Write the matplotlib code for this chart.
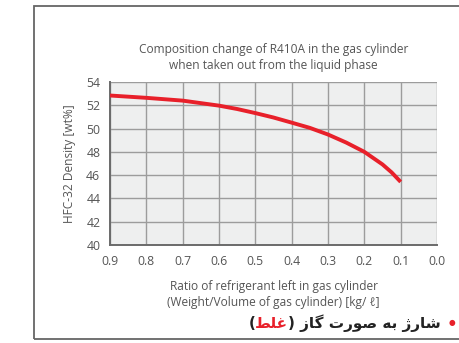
import matplotlib
matplotlib.use("Agg")
import matplotlib.pyplot as plt
from matplotlib.patches import Rectangle

# remaining refrigerant ratio [kg/l] and HFC-32 content [wt%]
ratio = [0.9, 0.8, 0.7, 0.6, 0.55, 0.5, 0.45, 0.4, 0.35, 0.3, 0.25, 0.2, 0.15, 0.125, 0.1]
hfc32 = [52.84, 52.64, 52.4, 51.97, 51.68, 51.33, 50.95, 50.51, 50.06, 49.49, 48.8,
         48.0, 46.92, 46.24, 45.42]

x_ticks = [0.9, 0.8, 0.7, 0.6, 0.5, 0.4, 0.3, 0.2, 0.1, 0.0]
y_ticks = [40, 42, 44, 46, 48, 50, 52, 54]

title = "Composition change of R410A in the gas cylinder\nwhen taken out from the liquid phase"
xlabel = "Ratio of refrigerant left in gas cylinder\n(Weight/Volume of gas cylinder) [kg/ \u2113]"
ylabel = "HFC-32 Density [wt%]"

# Persian caption, pre-shaped glyphs in visual (left-to-right) order
caption_red = "\uFEC2\uFEE0\uFECF"
caption_black = ") \uFEAF\uFE8E\uFB94 \uFE95\uFEAD\uFEEE\uFEBB \uFEEA\uFE91 \uFB8A\uFEAD\uFE8E\uFEB7"

txt_col = "#555555"
plt.rcParams["font.family"] = ["Open Sans", "DejaVu Sans"]

W, H = 459, 343
fig = plt.figure(figsize=(W / 100, H / 100), dpi=100)
ax = fig.add_axes([110 / W, 1 - 245 / H, 327 / W, 163 / H])

ax.set_facecolor("#eeefef")
ax.plot(ratio, hfc32, color="#e8202a", lw=2.8, solid_capstyle="butt",
        solid_joinstyle="round", zorder=3)

ax.set_xlim(0.9, 0.0)
ax.set_ylim(40, 54)
ax.set_xticks(x_ticks)
ax.set_xticklabels([f"{v:.1f}" for v in x_ticks])
ax.set_yticks(y_ticks)
ax.grid(True, color="#9c9c9c", lw=1.0)
ax.tick_params(length=0, labelsize=8.8, labelcolor=txt_col, pad=7)
for s in ("top", "right"):
    ax.spines[s].set_visible(False)
for s in ("left", "bottom"):
    ax.spines[s].set_color("#6a6a6a")
    ax.spines[s].set_linewidth(1.4)

ax.set_title(title, fontsize=8.6, color=txt_col, pad=9, linespacing=1.3)
ax.set_xlabel(xlabel, fontsize=8.6, color=txt_col, labelpad=9, linespacing=1.3)
ax.set_ylabel(ylabel, fontsize=8.6, color=txt_col, labelpad=7)

# outer frame
fig.patches.append(Rectangle((34 / W, 1 - 339 / H), 500 / W, 333 / H,
                             transform=fig.transFigure, fill=False,
                             edgecolor="#666666", lw=1.3))

# caption with bullet
cy = 1 - 323 / H
fig.text(452 / W, 1 - 322 / H, "\u25CF", color="#e8202a", fontsize=5.5,
         ha="center", va="center", family="DejaVu Sans")
t1 = fig.text(441 / W, cy, caption_black, fontsize=11, fontweight="bold",
              color="#222222", ha="right", va="center", family="DejaVu Sans")
fig.canvas.draw()
bb = t1.get_window_extent()
t2 = fig.text(bb.x0 / W, cy, caption_red, fontsize=11, fontweight="bold",
              color="#e8202a", ha="right", va="center", family="DejaVu Sans")
fig.canvas.draw()
bb2 = t2.get_window_extent()
fig.text(bb2.x0 / W, cy, "(", fontsize=11, fontweight="bold",
         color="#222222", ha="right", va="center", family="DejaVu Sans")

fig.savefig("out.png", dpi=100)
